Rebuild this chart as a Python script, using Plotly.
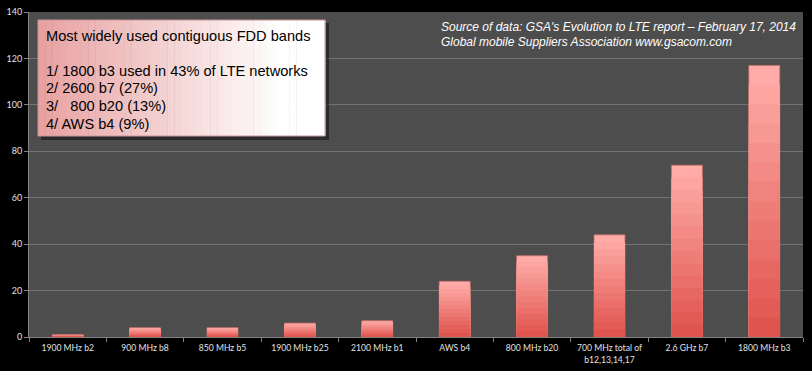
import plotly.graph_objects as go

categories = ["1900 MHz b2", "900 MHz b8", "850 MHz b5", "1900 MHz b25", "2100 MHz b1",
              "AWS b4", "800 MHz b20", "700 MHz total of<br>b12,13,14,17", "2.6 GHz b7", "1800 MHz b3"]
values = [1, 4, 4, 6, 7, 24, 35, 44, 74, 117]
y_ticks = [0, 20, 40, 60, 80, 100, 120, 140]

box_lines = ["Most widely used contiguous FDD bands", "",
             "1/ 1800 b3 used in 43% of LTE networks",
             "2/ 2600 b7 (27%)",
             "3/   800 b20 (13%)",
             "4/ AWS b4 (9%)"]
source_lines = ["Source of data: GSA's Evolution to LTE report \u2013 February 17, 2014",
                "Global mobile Suppliers Association www.gsacom.com"]

W, H = 812, 371
ML, MR, MT, MB = 29, 9, 12, 34
PW, PH = W - ML - MR, H - MT - MB


def px(x):
    return (x - ML) / PW


def py(y):
    return (H - MB - y) / PH


def lerp(c1, c2, t):
    return "rgb(%d,%d,%d)" % tuple(round(a + (b - a) * t) for a, b in zip(c1, c2))


fig = go.Figure()

# bars with a vertical gradient (layers of the same data)
N = 14
top_c = (255, 172, 168)
bot_c = (224, 84, 78)
for k in range(N):
    frac = 1 - k / N
    t = k / (N - 1)
    fig.add_trace(go.Bar(
        x=categories, y=[v * frac for v in values],
        marker=dict(color=lerp(top_c, bot_c, t),
                    line=dict(width=0.8 if k == 0 else 0, color="rgb(200,110,105)")),
        hoverinfo="skip", showlegend=False,
    ))

shapes = []
# shadow of box
shapes.append(dict(type="rect", xref="paper", yref="paper",
                   x0=px(41), x1=px(329), y0=py(23), y1=py(140),
                   fillcolor="rgba(20,20,20,0.6)", line=dict(width=0), layer="above"))
# gradient box
bx0, bx1, by0, by1 = 38, 325, 20, 136
S = 40
left_c = (232, 160, 160)
white = (255, 255, 255)
for i in range(S):
    xa = bx0 + (bx1 - bx0) * i / S
    xb = bx0 + (bx1 - bx0) * (i + 1) / S + 0.5
    t = min(1.0, (i + 0.5) / S / 0.85)
    shapes.append(dict(type="rect", xref="paper", yref="paper",
                       x0=px(xa), x1=px(xb), y0=py(by0), y1=py(by1),
                       fillcolor=lerp(left_c, white, t), line=dict(width=0), layer="above"))
shapes.append(dict(type="rect", xref="paper", yref="paper",
                   x0=px(bx0), x1=px(bx1), y0=py(by0), y1=py(by1),
                   fillcolor="rgba(0,0,0,0)", line=dict(width=1, color="rgb(200,150,150)"), layer="above"))

annotations = []
line_y = [36, 54, 71, 88, 106, 124]
for txt, yy in zip(box_lines, line_y):
    if not txt:
        continue
    annotations.append(dict(text=txt, xref="paper", yref="paper", x=px(44), y=py(yy),
                            xanchor="left", yanchor="middle", showarrow=False,
                            font=dict(family="Liberation Sans, Arial", size=14.6, color="black")))
for txt, yy in zip(source_lines, [27, 42]):
    annotations.append(dict(text="<i>" + txt + "</i>", xref="paper", yref="paper", x=px(439), y=py(yy),
                            xanchor="left", yanchor="middle", showarrow=False,
                            font=dict(family="Liberation Sans, Arial", size=12, color="white")))

fig.update_layout(
    width=W, height=H,
    margin=dict(l=ML, r=MR, t=MT, b=MB, pad=0, autoexpand=False),
    paper_bgcolor="black", plot_bgcolor="rgb(77,77,77)",
    barmode="overlay", bargap=0.6,
    shapes=shapes, annotations=annotations,
    font=dict(family="Lato, Carlito, Liberation Sans", size=9, color="rgb(225,225,225)"),
)
fig.update_xaxes(type="category", tickson="boundaries", ticks="outside", ticklen=4,
                 tickcolor="rgb(130,130,130)", showline=True, linecolor="rgb(130,130,130)",
                 showgrid=False, tickangle=0, automargin=False, ticklabelstandoff=3,
                 tickfont=dict(size=8.6, color="rgb(225,225,225)"))
fig.update_yaxes(range=[0, 140], tickvals=y_ticks, ticks="outside", ticklen=4,
                 tickcolor="rgb(130,130,130)", showline=True, linecolor="rgb(130,130,130)",
                 gridcolor="rgb(115,115,115)", gridwidth=1, zeroline=False, automargin=False,
                 tickfont=dict(size=9, color="rgb(225,225,225)"))

fig.write_html("out.html", config={"displayModeBar": False},
               post_script="document.body.style.margin='0';document.body.style.background='black';")
